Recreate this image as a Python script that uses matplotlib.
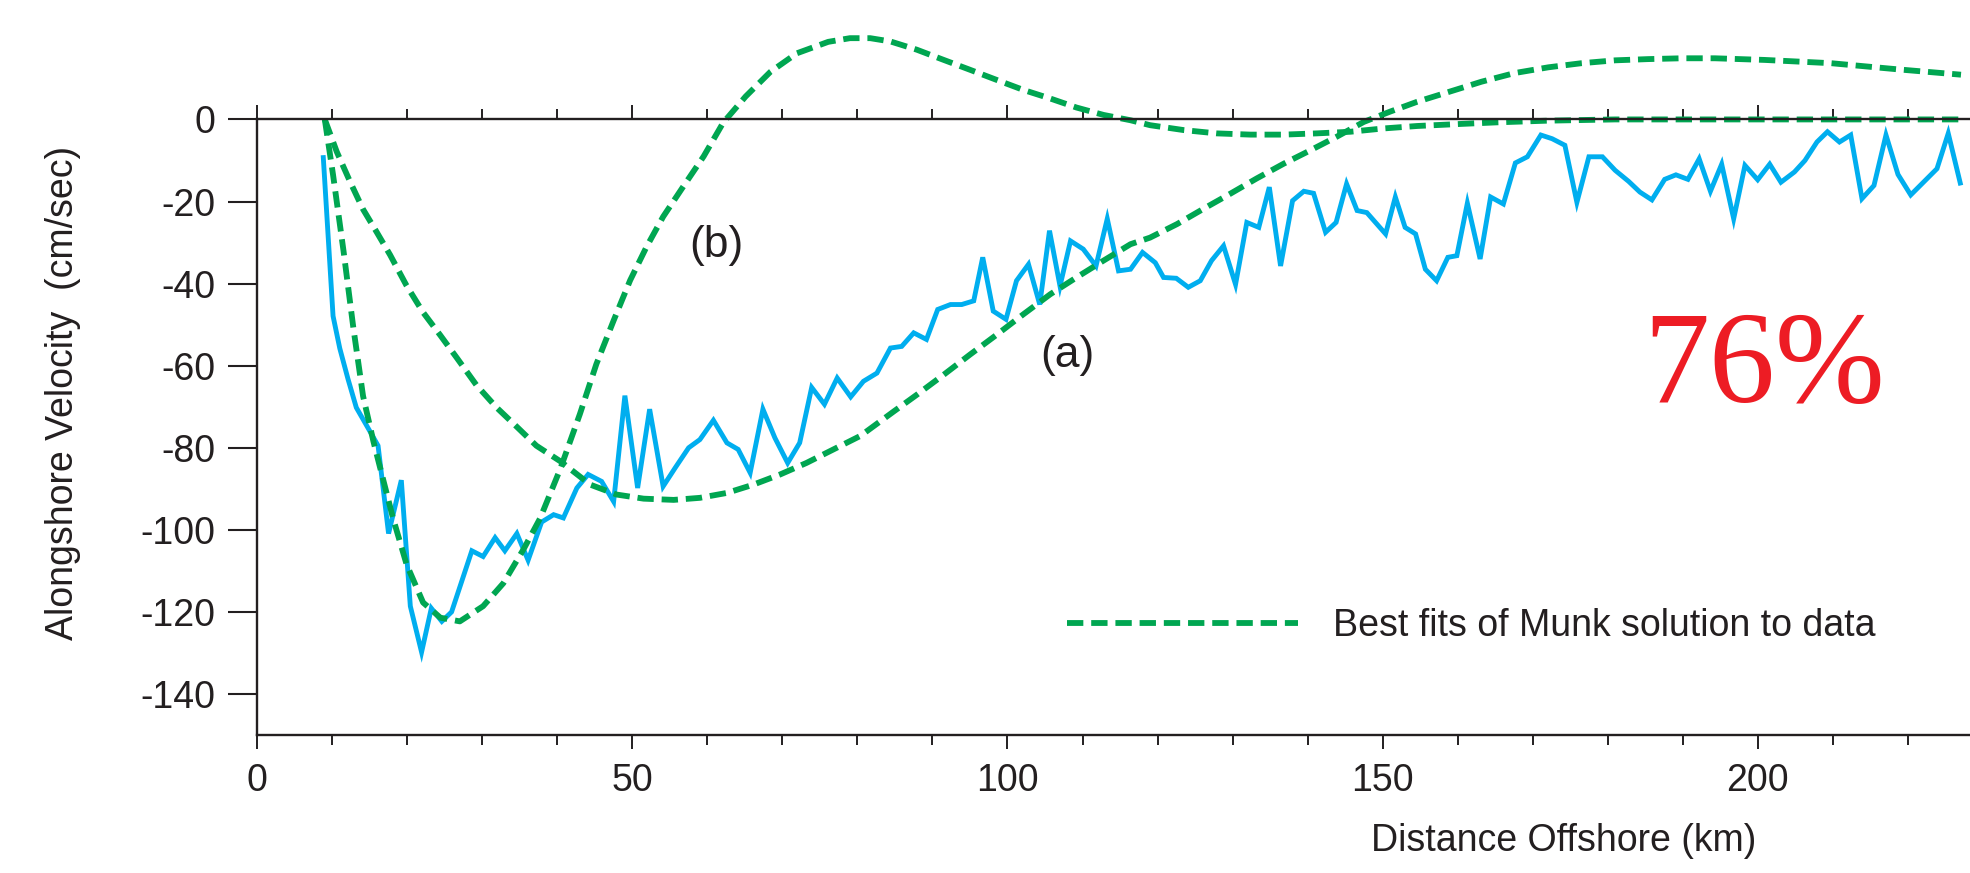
import matplotlib
matplotlib.use('Agg')
import matplotlib.pyplot as plt
from matplotlib.ticker import MultipleLocator

plt.rcParams['font.family'] = ['Liberation Sans', 'DejaVu Sans']
plt.rcParams['axes.unicode_minus'] = False

# observed alongshore velocity (cm/sec) vs distance offshore (km)
dist_km = [8.8, 10.1, 11.0, 12.1, 13.2, 14.8, 16.1, 17.5, 19.2, 20.4, 21.9, 23.2, 24.6, 25.9,
           28.6, 30.1, 31.7, 33.0, 34.6, 36.1, 37.9, 39.5, 40.8, 42.6, 44.1, 45.9, 47.5, 49.0,
           50.7, 52.3, 54.1, 55.7, 57.5, 59.0, 60.8, 62.6, 64.1, 65.7, 67.4, 69.0, 70.7, 72.3,
           73.9, 75.6, 77.3, 79.1, 80.8, 82.6, 84.4, 85.9, 87.5, 89.2, 90.7, 92.4, 93.9, 95.5,
           96.7, 98.1, 99.8, 101.2, 102.8, 104.3, 105.6, 107.0, 108.4, 110.1, 111.8, 113.3,
           114.8, 116.4, 118.0, 119.7, 120.8, 122.5, 124.1, 125.7, 127.2, 128.8, 130.4, 131.9,
           133.5, 134.9, 136.4, 138.0, 139.5, 140.8, 142.4, 143.8, 145.2, 146.6, 147.9, 150.4,
           151.7, 153.0, 154.4, 155.7, 157.2, 158.7, 159.9, 161.3, 163.0, 164.4, 166.1, 167.7,
           169.3, 171.1, 172.6, 174.3, 175.9, 177.5, 179.3, 181.0, 182.8, 184.3, 185.9, 187.6,
           189.1, 190.7, 192.2, 193.7, 195.2, 196.8, 198.3, 200.0, 201.6, 203.1, 204.9, 206.3,
           207.9, 209.3, 210.9, 212.4, 213.9, 215.5, 217.1, 218.7, 220.4, 222.1, 223.9, 225.4,
           227.0]
velocity = [-9.3, -47.9, -55.8, -63.3, -70.2, -75.3, -79.5, -100.9, -87.9, -118.6, -129.8, -119.1,
            -122.3, -120.0, -105.1, -106.5, -101.9, -105.1, -100.9, -107.4, -98.1, -96.3, -97.1,
            -89.8, -86.5, -88.2, -93.1, -67.3, -89.8, -70.6, -89.4, -84.9, -80.0, -78.0, -73.3,
            -78.8, -80.4, -86.1, -70.6, -77.6, -83.7, -78.8, -65.3, -69.4, -63.0, -67.6, -63.8,
            -61.8, -55.7, -55.3, -52.0, -53.6, -46.3, -45.1, -45.1, -44.2, -33.6, -46.7, -48.7,
            -39.3, -35.3, -45.1, -27.1, -40.6, -29.6, -31.6, -35.7, -24.2, -36.9, -36.5, -32.4,
            -34.9, -38.5, -38.7, -40.9, -39.3, -34.4, -30.8, -40.2, -25.1, -26.3, -16.5, -35.7,
            -19.8, -17.5, -18.0, -27.5, -25.1, -15.7, -22.2, -22.7, -27.9, -18.9, -26.3, -27.9,
            -36.5, -39.3, -33.6, -33.2, -20.4, -34.0, -18.9, -20.6, -10.6, -9.1, -3.8, -4.7,
            -6.3, -20.2, -9.1, -9.1, -12.4, -15.1, -17.7, -19.6, -14.6, -13.5, -14.6, -9.6,
            -17.5, -10.9, -24.2, -11.2, -14.7, -10.9, -15.3, -12.8, -10.0, -5.5, -3.0, -5.5,
            -3.8, -19.3, -16.1, -3.8, -13.4, -18.4, -15.3, -12.0, -3.4, -15.5]

# Munk solution fit (a)
fit_a_x = [9.0, 10.6, 12.4, 14.1, 15.9, 17.7, 19.9, 22.1, 24.4, 26.6, 29.2, 31.9, 34.6, 37.2,
           40.4, 44.4, 47.9, 51.5, 55.5, 59.0, 62.6, 66.1, 69.7, 73.2, 76.8, 80.4, 84.8, 87.9,
           91.5, 95.0, 98.6, 102.1, 105.7, 109.2, 112.8, 116.4, 119.0, 122.6, 126.1, 129.7,
           133.2, 136.8, 140.4, 143.9, 147.5, 151.0, 154.6, 160.4, 163.2, 167.6, 172.1, 176.5,
           181.0, 185.4, 189.9, 194.3, 200.9, 209.8, 218.7, 227.1]
fit_a_y = [0.0, -7.9, -15.3, -21.9, -27.4, -33.0, -40.5, -47.0, -52.6, -58.1, -64.7, -70.2,
           -74.9, -79.5, -83.3, -89.0, -91.4, -92.4, -92.7, -92.2, -91.0, -89.0, -86.5, -83.7,
           -80.4, -77.1, -71.2, -67.1, -62.2, -57.3, -52.4, -47.5, -42.6, -38.5, -34.4, -30.4,
           -28.8, -25.5, -21.8, -18.1, -14.4, -10.8, -7.5, -4.2, -0.6, 1.9, 4.3, 7.6, 9.2, 11.3,
           12.7, 13.7, 14.4, 14.7, 14.9, 14.9, 14.5, 13.7, 12.2, 10.9]

# Munk solution fit (b)
fit_b_x = [9.0, 10.1, 11.5, 12.8, 14.1, 15.5, 16.8, 18.1, 19.9, 22.1, 24.4, 27.0, 30.1, 32.8,
           35.5, 37.7, 40.4, 43.0, 45.2, 47.5, 49.7, 51.9, 54.1, 56.8, 59.5, 62.1, 65.1, 68.4,
           71.9, 76.1, 79.0, 81.7, 84.4, 87.9, 91.5, 95.0, 98.6, 102.1, 105.7, 109.2, 112.8,
           116.4, 119.0, 123.5, 127.9, 132.4, 136.8, 141.2, 145.7, 150.1, 154.6, 160.4, 165.4,
           172.0, 181.0, 200.0, 227.1]
fit_b_y = [0.0, -13.5, -32.1, -50.7, -67.4, -78.6, -87.9, -97.2, -108.4, -117.7, -121.4, -122.3,
           -118.6, -113.0, -104.7, -97.2, -85.1, -71.8, -59.6, -49.0, -39.2, -31.0, -23.7, -16.3,
           -9.0, -0.8, 5.6, 11.6, 16.1, 18.9, 19.8, 19.8, 19.0, 17.0, 14.5, 12.1, 9.6, 7.2, 5.1,
           2.9, 1.1, -0.2, -1.4, -2.6, -3.4, -3.7, -3.7, -3.4, -3.0, -2.2, -1.6, -1.1, -0.7,
           -0.3, 0.0, 0.0, 0.0]

x_ticks = [0, 50, 100, 150, 200]
y_ticks = [-140, -120, -100, -80, -60, -40, -20, 0]

text_color = '#231f20'
blue = '#00aeef'
green = '#00a651'
dash = (0, (2.8, 1.35))

fig = plt.figure(figsize=(19.7, 8.73), dpi=100)
ax = fig.add_axes([0.1306, 0.158, 0.8694, 0.842])

ax.plot(dist_km, velocity, color=blue, lw=3.5, solid_joinstyle='miter')
ax.plot(fit_a_x, fit_a_y, color=green, lw=4.2, linestyle=dash,
        label='Best fits of Munk solution to data')
ax.plot(fit_b_x, fit_b_y, color=green, lw=4.2, linestyle=dash)

ax.set_xlim(0, 228.3)
ax.set_ylim(-150, 29.1)

# axes frame: top line drawn at zero velocity
ax.spines['right'].set_visible(False)
ax.spines['top'].set_position(('data', 0))
ax.spines['left'].set_bounds(-150, 0)
for side in ['top', 'bottom', 'left']:
    ax.spines[side].set_linewidth(1.7)
    ax.spines[side].set_color(text_color)

ax.set_xticks(x_ticks)
ax.set_xticklabels([str(v) for v in x_ticks])
ax.xaxis.set_minor_locator(MultipleLocator(10))
ax.set_yticks(y_ticks)
ax.set_yticklabels([str(v) for v in y_ticks])

ax.tick_params(axis='x', which='both', top=True, bottom=True, labeltop=False,
               direction='out', colors=text_color, labelsize=27, pad=10)
ax.tick_params(axis='x', which='major', length=10, width=1.4)
ax.tick_params(axis='x', which='minor', length=7, width=1.4)
ax.tick_params(axis='y', which='major', left=True, right=False, direction='out',
               length=21, width=1.5, colors=text_color, labelsize=27, pad=9)

ax.text(61.2, -30.7, '(b)', fontsize=32, color=text_color, ha='center', va='center')
ax.text(108.0, -57.4, '(a)', fontsize=32, color=text_color, ha='center', va='center')
ax.text(200.8, -68.8, '76%', fontsize=95, color='#ed1c24', ha='center', va='baseline',
        family=['Liberation Serif', 'DejaVu Serif'])

ax.legend(loc='center left', bbox_to_anchor=(0.4728, 0.148), frameon=False,
          fontsize=27, handlelength=6.15, handletextpad=0.93, borderpad=0,
          borderaxespad=0, labelcolor=text_color)

fig.text(0.032, 0.5504, 'Alongshore Velocity  (cm/sec)', rotation=90, fontsize=27,
         color=text_color, ha='center', va='center')
fig.text(0.794, 0.0367, 'Distance Offshore (km)', fontsize=27, color=text_color,
         ha='center', va='center')

fig.savefig('out.png', dpi=100)
